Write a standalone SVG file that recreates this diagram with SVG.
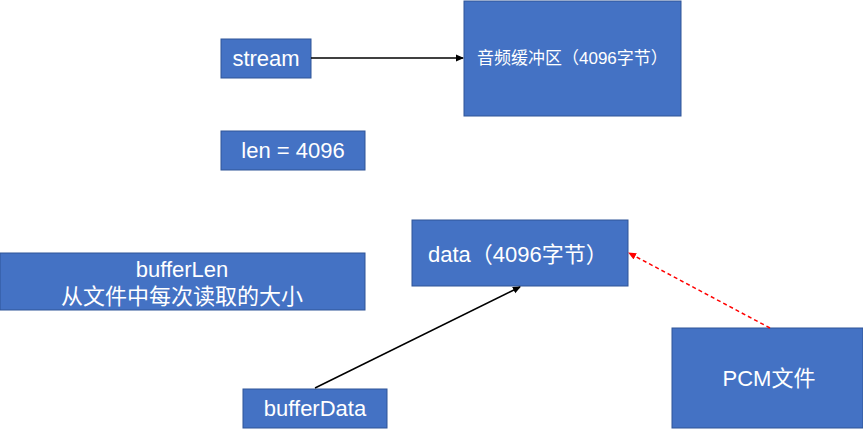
<svg xmlns="http://www.w3.org/2000/svg" width="863" height="429" viewBox="0 0 863 429">
<defs>
<style>
.box{fill:#4472C4;stroke:#2F5597;stroke-width:1}
.t{font-family:"Liberation Sans","Noto Sans CJK SC",sans-serif;fill:#fff;font-size:22px;text-anchor:middle;dominant-baseline:central}
.c{fill:none;stroke-width:1.5}
</style>
<marker id="ab" markerWidth="8" markerHeight="8" refX="7" refY="4" orient="auto" markerUnits="userSpaceOnUse">
<path d="M0,0.5 L8,4 L0,7.5 z" fill="#000"/>
</marker>
<marker id="ar" markerWidth="8" markerHeight="8" refX="7" refY="4" orient="auto" markerUnits="userSpaceOnUse">
<path d="M0,0.5 L8,4 L0,7.5 z" fill="#FF0000"/>
</marker>
</defs>
<rect width="863" height="429" fill="#fff"/>
<g id="stream"><rect class="box" x="221" y="39" width="90" height="39"/><text class="t" x="266" y="58">stream</text></g>
<g id="audiobuffer"><rect class="box" x="464" y="1" width="217" height="115"/><text class="t" x="477" y="58" style="text-anchor:start;font-size:17px">音频缓冲区（4096字节）</text></g>
<g id="len"><rect class="box" x="221" y="131" width="144" height="39"/><text class="t" x="293" y="150">len = 4096</text></g>
<g id="bufferLen"><rect class="box" x="0" y="253" width="365" height="57"/><text class="t" x="182" y="269">bufferLen</text><text class="t" x="182" y="296">从文件中每次读取的大小</text></g>
<g id="data"><rect class="box" x="412" y="220" width="216" height="66"/><text class="t" x="428" y="254" style="text-anchor:start">data（4096字节）</text></g>
<g id="pcm"><rect class="box" x="672" y="328" width="191" height="100"/><text class="t" x="769" y="378">PCM文件</text></g>
<g id="bufferData"><rect class="box" x="243" y="389" width="144" height="39"/><text class="t" x="315" y="408">bufferData</text></g>
<g id="connectors">
<line class="c" x1="311" y1="58" x2="463" y2="58" stroke="#000" marker-end="url(#ab)"/>
<line class="c" x1="315" y1="388" x2="520" y2="287" stroke="#000" marker-end="url(#ab)"/>
<line class="c" x1="770" y1="328" x2="629" y2="253" stroke="#FF0000" stroke-dasharray="4,3" marker-end="url(#ar)"/>
</g>
</svg>
